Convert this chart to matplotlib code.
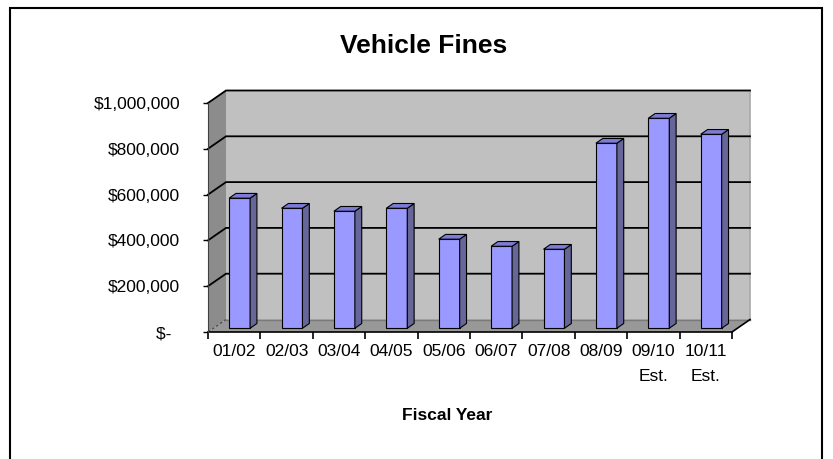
import matplotlib
matplotlib.use("Agg")
import matplotlib.pyplot as plt
from matplotlib.patches import Polygon, Rectangle

plt.rcParams['font.family'] = ['Liberation Sans', 'DejaVu Sans']

# ---- data ----
categories = ["01/02", "02/03", "03/04", "04/05", "05/06", "06/07",
              "07/08", "08/09", "09/10\nEst.", "10/11\nEst."]
fines = [568000, 524000, 511000, 524000, 389000, 358000,
         345000, 808000, 917000, 847000]
y_ticks = [0, 200000, 400000, 600000, 800000, 1000000]
y_labels = ["$-\u2002", "$200,000", "$400,000", "$600,000", "$800,000", "$1,000,000"]
title = "Vehicle Fines"
x_title = "Fiscal Year"

# ---- layout (pixels) ----
W_PX, H_PX = 833, 459
x0_px, unit_px = 208, 52.4           # front-left corner, px per category
y0_px, px_per_val = 332, 0.229 / 1000  # front floor, px per value unit
dx_px, dy_px = 18.0, 12.5            # depth offset

n = len(categories)
DX = dx_px / unit_px
DY = dy_px / px_per_val
ymax = y_ticks[-1]

left_px = x0_px
right_px = x0_px + n * unit_px + dx_px
top_px = y0_px - (ymax * px_per_val) - dy_px

fig = plt.figure(figsize=(W_PX / 100, H_PX / 100), dpi=100)
ax = fig.add_axes([left_px / W_PX, (H_PX - y0_px) / H_PX,
                   (right_px - left_px) / W_PX, (y0_px - top_px) / H_PX])
ax.set_xlim(0, n + DX)
ax.set_ylim(0, ymax + DY)
ax.patch.set_visible(False)

# walls
back_c, side_c, floor_c = '#C0C0C0', '#8C8C8C', '#989898'
ax.add_patch(Polygon([(DX, DY), (n + DX, DY), (n + DX, ymax + DY), (DX, ymax + DY)],
                     closed=True, facecolor=back_c, edgecolor='none', zorder=1, clip_on=False))
ax.add_patch(Polygon([(0, 0), (DX, DY), (DX, ymax + DY), (0, ymax)],
                     closed=True, facecolor=side_c, edgecolor='none', zorder=1, clip_on=False))
ax.add_patch(Polygon([(0, 0), (n, 0), (n + DX, DY), (DX, DY)],
                     closed=True, facecolor=floor_c, edgecolor='none', zorder=1, clip_on=False))
# back wall right edge (light)
ax.plot([n + DX, n + DX], [DY, ymax + DY], color='#A8A8A8', lw=1.2, zorder=2, clip_on=False)
# floor edges
ax.plot([DX, n + DX], [DY, DY], color='#7A7A7A', lw=1.0, zorder=2, clip_on=False)
ax.plot([0, DX], [0, DY], color='#555555', lw=1.0, ls=(0, (2, 1.5)), zorder=2, clip_on=False)
ax.plot([n, n + DX], [0, DY], color='black', lw=1.2, zorder=2, clip_on=False)

# gridlines
for v in y_ticks[1:]:
    ax.plot([0, DX, n + DX], [v, v + DY, v + DY], color='black', lw=1.3, zorder=2,
            solid_joinstyle='miter', clip_on=False)

# bars
f0, f1 = 0.30, 0.68
bw = 0.40
face_c, side_bar_c, top_c = '#9999FF', '#666699', '#7C7CD8'
for i, v in enumerate(fines):
    xc = i + 0.5 + f0 * DX
    b0 = f0 * DY
    ddx, ddy = (f1 - f0) * DX, (f1 - f0) * DY
    ax.bar(xc, v, width=bw, bottom=b0, color=face_c, edgecolor='black', lw=0.8,
           zorder=4, clip_on=False)
    xr = xc + bw / 2
    xl = xc - bw / 2
    ax.add_patch(Polygon([(xr, b0), (xr + ddx, b0 + ddy), (xr + ddx, b0 + ddy + v), (xr, b0 + v)],
                         closed=True, facecolor=side_bar_c, edgecolor='black', lw=0.8,
                         zorder=4, clip_on=False))
    ax.add_patch(Polygon([(xl, b0 + v), (xr, b0 + v), (xr + ddx, b0 + v + ddy), (xl + ddx, b0 + v + ddy)],
                         closed=True, facecolor=top_c, edgecolor='black', lw=0.8,
                         zorder=4, clip_on=False))

# spines & ticks
for s in ['top', 'right']:
    ax.spines[s].set_visible(False)
ax.spines['left'].set_bounds(0, ymax)
ax.spines['left'].set_color('#404040')
ax.spines['left'].set_zorder(3)
ax.spines['bottom'].set_bounds(0, n)
ax.spines['bottom'].set_color('black')
ax.spines['bottom'].set_linewidth(1.2)

ax.set_yticks(y_ticks)
ax.set_yticklabels(y_labels)
ax.tick_params(axis='y', direction='out', length=3.6, width=1.0, pad=16.5,
               labelsize=12.5, colors='black')

ax.set_xticks(range(n + 1))
ax.set_xticklabels([])
ax.set_xticks([i + 0.5 for i in range(n)], minor=True)
ax.set_xticklabels(categories, minor=True)
ax.tick_params(axis='x', which='major', direction='out', length=5, width=1.2)
ax.tick_params(axis='x', which='minor', length=0, pad=9, labelsize=12.5)
for lbl in ax.get_xticklabels(minor=True):
    lbl.set_linespacing(1.8)
    lbl.set_verticalalignment('top')

# titles
fig.text(423.5 / W_PX, (H_PX - 53) / H_PX, title, ha='center', va='baseline',
         fontsize=19, fontweight='bold')
fig.text(447.5 / W_PX, (H_PX - 420) / H_PX, x_title, ha='center', va='baseline',
         fontsize=12.5, fontweight='bold')

# chart area border
fig.patches.append(Rectangle((10 / W_PX, -0.05), (822 - 10) / W_PX, (H_PX - 8) / H_PX + 0.05,
                             transform=fig.transFigure, fill=False, edgecolor='black',
                             lw=1.5, zorder=10))

fig.savefig("out.png", dpi=100)
